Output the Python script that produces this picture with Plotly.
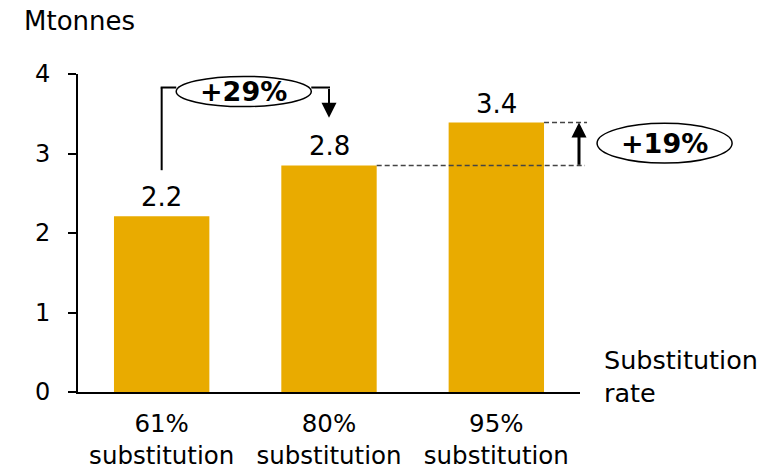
import plotly.graph_objects as go

categories = ["61%<br>substitution", "80%<br>substitution", "95%<br>substitution"]
values = [2.21, 2.85, 3.39]
value_labels = ["2.2", "2.8", "3.4"]
y_ticks = [0, 1, 2, 3, 4]
change_1 = "+29%"
change_2 = "+19%"
unit_label = "Mtonnes"
axis_label = "Substitution<br>rate"

BAR = "#E9AB00"
FONT = "DejaVu Sans"
FS = 26
BAR_W = 0.57
XR = [-0.5, 2.5]
YR = [0, 4]

xs = list(range(len(categories)))


def xp(x):
    return (x - XR[0]) / (XR[1] - XR[0])


def yp(v):
    return (v - YR[0]) / (YR[1] - YR[0])


fig = go.Figure()
fig.add_trace(go.Bar(x=xs, y=values, width=BAR_W, marker=dict(color=BAR, line=dict(width=0)),
                     hoverinfo="skip"))

ann = []
shapes = []
f = dict(size=FS, color="black", family=FONT)

# value labels
for x, v, t in zip(xs, values, value_labels):
    ann.append(dict(x=x, y=v, xref="x", yref="y", text=t, showarrow=False,
                    xanchor="center", yanchor="bottom", yshift=2, font=f))

# +29% bracket
b_lvl = 3.83
start_y = 2.79
e1 = dict(x0=0.087, x1=0.894, y0=3.59, y1=3.97)
line_k = dict(color="black", width=2)
shapes.append(dict(type="line", xref="x", yref="y", x0=xs[0], x1=xs[0], y0=start_y, y1=b_lvl, line=line_k))
shapes.append(dict(type="line", xref="x", yref="y", x0=xs[0] - 0.006, x1=e1["x0"], y0=b_lvl, y1=b_lvl, line=line_k))
shapes.append(dict(type="line", xref="x", yref="y", x0=e1["x1"], x1=xs[1] + 0.006, y0=b_lvl, y1=b_lvl, line=line_k))
shapes.append(dict(type="circle", xref="x", yref="y", **e1, fillcolor="white",
                   line=dict(color="black", width=1.5)))
ann.append(dict(x=(e1["x0"] + e1["x1"]) / 2, y=(e1["y0"] + e1["y1"]) / 2, xref="x", yref="y",
                text="<b>" + change_1 + "</b>", showarrow=False,
                xanchor="center", yanchor="middle", font=dict(f, size=27)))
ann.append(dict(x=xs[1], y=3.45, xref="x", yref="y", ax=xs[1], ay=b_lvl, axref="x", ayref="y",
                text="", showarrow=True, arrowhead=2, arrowwidth=2, arrowsize=1.5,
                arrowcolor="black", standoff=0))

# +19% dashed guides and arrow
dash = dict(color="#444444", width=1.6, dash="5px,3px")
shapes.append(dict(type="line", xref="paper", yref="paper", x0=xp(xs[2] + BAR_W / 2), x1=1.014,
                   y0=yp(values[2]), y1=yp(values[2]), line=dash, layer="above"))
shapes.append(dict(type="line", xref="paper", yref="paper", x0=xp(xs[1] + BAR_W / 2), x1=1.010,
                   y0=yp(values[1]), y1=yp(values[1]), line=dash, layer="above"))
ann.append(dict(x=0.998, y=values[2], xref="paper", yref="y", ax=0, ay=values[1] - 0.01,
                axref="pixel", ayref="y", text="", showarrow=True, arrowhead=2, arrowwidth=3,
                arrowsize=1.0, arrowcolor="black", standoff=0))
e2 = dict(x0=1.034, x1=1.303, y0=yp(2.88), y1=yp(3.38))
shapes.append(dict(type="circle", xref="paper", yref="paper", **e2, fillcolor="white",
                   line=dict(color="black", width=1.5)))
ann.append(dict(x=(e2["x0"] + e2["x1"]) / 2, y=(e2["y0"] + e2["y1"]) / 2, xref="paper", yref="paper",
                text="<b>" + change_2 + "</b>", showarrow=False,
                xanchor="center", yanchor="middle", font=dict(f, size=27)))

# axis titles
ann.append(dict(x=-0.1116, y=1.167, xref="paper", yref="paper", text=unit_label, showarrow=False,
                xanchor="left", yanchor="middle", font=f))
ann.append(dict(x=1.044, y=0.05, xref="paper", yref="paper", text=axis_label, showarrow=False,
                xanchor="left", yanchor="middle", align="left", font=dict(f, size=25.5)))

fig.update_layout(
    width=766, height=469,
    margin=dict(l=78, r=186, t=74, b=77, autoexpand=False),
    paper_bgcolor="white", plot_bgcolor="white",
    showlegend=False,
    font=dict(family=FONT, size=FS, color="black"),
    annotations=ann, shapes=shapes,
    xaxis=dict(range=XR, tickvals=xs, ticktext=categories, showgrid=False, zeroline=False,
               showline=True, linecolor="black", linewidth=2, ticks="", ticklabelstandoff=9,
               automargin=False, tickfont=dict(f, size=24.5)),
    yaxis=dict(range=YR, tickvals=y_ticks, showgrid=False, zeroline=False, showline=True,
               linecolor="black", linewidth=2, ticks="outside", ticklen=8, tickwidth=2,
               tickcolor="black", ticklabelstandoff=13, automargin=False, tickfont=dict(f, size=24)),
)

# remove the page's default 8px body margin so the figure fills the window exactly
fig.write_html("out.html", config={"displayModeBar": False, "staticPlot": True},
               post_script="document.body.style.margin='0';document.body.style.overflow='hidden';")
